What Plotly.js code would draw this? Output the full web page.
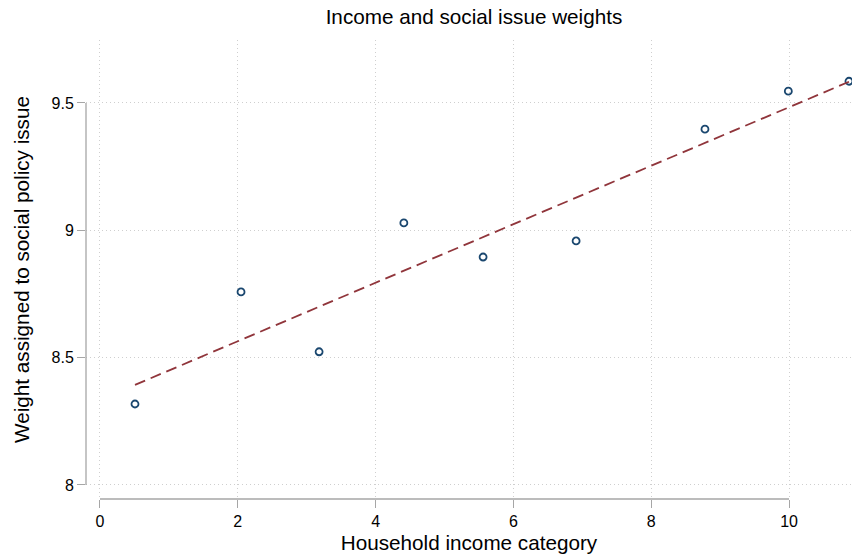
<!DOCTYPE html>
<html>
<head>
<meta charset="utf-8">
<script src="https://cdn.plot.ly/plotly-3.0.1.min.js"></script>
<style>html,body{margin:0;padding:0;background:#fff;}#chart{width:852px;height:554px;}</style>
</head>
<body>
<div id="chart"></div>
<script>
// Data
const incomeCategory = [0.508, 2.047, 3.18, 4.41, 5.56, 6.91, 8.78, 9.99, 10.87];
const socialWeight   = [8.318, 8.758, 8.523, 9.029, 8.895, 8.958, 9.397, 9.546, 9.585];
const fitX = [0.508, 10.87];
const fitY = [8.393, 9.583];
const xTicks = [0, 2, 4, 6, 8, 10];
const yTicks = [8, 8.5, 9, 9.5];
const yTickLabels = ['8', '8.5', '9', '9.5'];

const font = 'Liberation Sans, Arial, sans-serif';
const axisGrey = '#a6a6a6';

const traces = [
  {
    x: incomeCategory, y: socialWeight, type: 'scatter', mode: 'markers',
    marker: {symbol: 'circle-open', size: 7, color: '#1a476f', line: {width: 1.8, color: '#1a476f'}},
    cliponaxis: false, showlegend: false, hoverinfo: 'x+y'
  },
  {
    x: fitX, y: fitY, type: 'scatter', mode: 'lines',
    line: {color: '#90353b', width: 1.8, dash: '11px,6px'},
    showlegend: false
  }
];

const layout = {
  width: 852, height: 554,
  margin: {l: 86, r: 0, t: 40, b: 55},
  paper_bgcolor: '#ffffff', plot_bgcolor: '#ffffff',
  font: {family: font, color: '#000000'},
  showlegend: false,
  title: {text: 'Income and social issue weights', font: {size: 20.7, family: font, color: '#000'},
          x: 0.5065, xref: 'paper', xanchor: 'center', y: 1, yref: 'container', yanchor: 'top', pad: {t: 10}},
  xaxis: {
    range: [-0.203, 10.914], tickvals: xTicks, ticktext: xTicks.map(String),
    showgrid: true, gridcolor: '#cfcfcf', gridwidth: 1, griddash: '1px,3px',
    zeroline: false, showline: false, ticks: 'outside', ticklen: 8, tickwidth: 1, tickcolor: axisGrey,
    tickfont: {size: 16, family: font, color: '#000'},
    title: {text: 'Household income category', font: {size: 20.7, family: font, color: '#000'}, standoff: 8},
    fixedrange: true
  },
  yaxis: {
    range: [7.945, 9.747], tickvals: yTicks, ticktext: yTickLabels,
    showgrid: true, gridcolor: '#cfcfcf', gridwidth: 1, griddash: '1px,3px',
    zeroline: false, showline: false, ticks: 'outside', ticklen: 8, tickwidth: 1, tickcolor: axisGrey,
    tickfont: {size: 16, family: font, color: '#000'},
    title: {text: 'Weight assigned to social policy issue', font: {size: 20.7, family: font, color: '#000'}, standoff: 16},
    fixedrange: true
  },
  shapes: [
    {type: 'line', xref: 'x', yref: 'paper', x0: xTicks[0], x1: xTicks[xTicks.length-1], y0: 0, y1: 0,
     line: {color: axisGrey, width: 1.3}},
    {type: 'line', xref: 'paper', yref: 'y', x0: 0, x1: 0, y0: yTicks[0], y1: yTicks[yTicks.length-1],
     line: {color: axisGrey, width: 1.3}}
  ]
};

Plotly.newPlot('chart', traces, layout, {displayModeBar: false, staticPlot: true});
</script>
</body>
</html>
